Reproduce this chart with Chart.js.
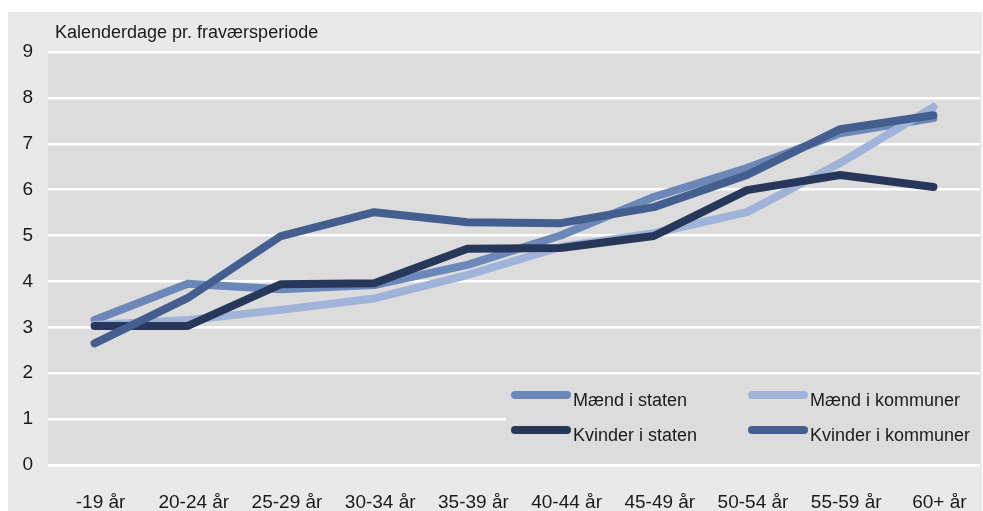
<!DOCTYPE html>
<html><head><meta charset="utf-8">
<script src="https://cdn.jsdelivr.net/npm/chart.js@4.4.1/dist/chart.umd.min.js"></script>
<style>html,body{margin:0;padding:0;background:#fff;overflow:hidden}#wrap{width:983px;height:511px}</style>
</head><body><div id="wrap"><canvas id="c" width="983" height="511"></canvas></div>
<script>
const categories = ['-19 år','20-24 år','25-29 år','30-34 år','35-39 år','40-44 år','45-49 år','50-54 år','55-59 år','60+ år'];
const maendStaten     = [3.16, 3.95, 3.83, 3.92, 4.36, 5.00, 5.84, 6.47, 7.23, 7.56];
const maendKommuner   = [3.05, 3.16, 3.38, 3.63, 4.14, 4.75, 5.05, 5.51, 6.58, 7.80];
const kvinderStaten   = [3.03, 3.03, 3.94, 3.96, 4.71, 4.73, 4.99, 5.99, 6.32, 6.06];
const kvinderKommuner = [2.65, 3.64, 4.99, 5.51, 5.29, 5.27, 5.62, 6.32, 7.32, 7.62];
const seriesNames = ['Mænd i staten','Mænd i kommuner','Kvinder i staten','Kvinder i kommuner'];
const yTicks = [0,1,2,3,4,5,6,7,8,9];
const yTitle = 'Kalenderdage pr. fraværsperiode';

const TICK_FONT = "'Liberation Sans', Arial, sans-serif";
const TEXT_FONT = "'Liberation Sans', Arial, sans-serif";
const TEXT_COLOR = '#1a1a1a';

const bgPlugin = {
  id: 'bg',
  beforeDraw(chart) {
    const ctx = chart.ctx, a = chart.chartArea;
    ctx.save();
    ctx.fillStyle = '#ffffff';
    ctx.fillRect(0, 0, chart.width, chart.height);
    ctx.fillStyle = '#e9e9e9';
    ctx.fillRect(8, 12, 974, 499);
    ctx.fillStyle = '#dcdcdc';
    ctx.fillRect(a.left, a.top, a.right - a.left, a.bottom - a.top);
    ctx.fillStyle = TEXT_COLOR;
    ctx.font = '18px ' + TEXT_FONT;
    ctx.textBaseline = 'alphabetic';
    ctx.textAlign = 'left';
    ctx.fillText(yTitle, a.left + 7, 38);
    ctx.restore();
  }
};

const legendPlugin = {
  id: 'insideLegend',
  afterDatasetsDraw(chart) {
    const ctx = chart.ctx, a = chart.chartArea;
    ctx.save();
    ctx.fillStyle = '#dcdcdc';
    ctx.fillRect(a.left + 458, a.bottom - 89, a.right - (a.left + 458), 87);
    chart.data.datasets.forEach((ds, i) => {
      const col = i % 2, row = Math.floor(i / 2);
      const x0 = a.left + 463 + col * 237;
      const ly = a.bottom - 70 + row * 35;
      ctx.strokeStyle = ds.borderColor;
      ctx.lineWidth = 8;
      ctx.lineCap = 'round';
      ctx.beginPath();
      ctx.moveTo(x0 + 4, ly);
      ctx.lineTo(x0 + 56, ly);
      ctx.stroke();
      ctx.fillStyle = TEXT_COLOR;
      ctx.font = '18px ' + TEXT_FONT;
      ctx.textBaseline = 'alphabetic';
      ctx.textAlign = 'left';
      ctx.fillText(ds.label, x0 + 62, ly + 11);
    });
    ctx.restore();
  }
};

const colors = ['#6b88b9', '#a0b3d8', '#26375a', '#435e8f'];
const values = [maendStaten, maendKommuner, kvinderStaten, kvinderKommuner];
const orders = [3, 2, 1, 0];

new Chart(document.getElementById('c'), {
  type: 'line',
  data: {
    labels: categories,
    datasets: seriesNames.map((name, i) => ({
      label: name,
      data: values[i],
      borderColor: colors[i],
      backgroundColor: colors[i],
      borderWidth: 8,
      borderCapStyle: 'round',
      borderJoinStyle: 'round',
      pointRadius: 0,
      pointHoverRadius: 0,
      tension: 0,
      fill: false,
      order: orders[i]
    }))
  },
  options: {
    responsive: false,
    animation: false,
    devicePixelRatio: 1,
    layout: { padding: { top: 52, right: 3, left: 0, bottom: 0 } },
    plugins: { legend: { display: false }, tooltip: { enabled: false }, title: { display: false } },
    scales: {
      x: {
        offset: true,
        grid: { display: false, drawTicks: false },
        border: { display: false },
        ticks: { color: TEXT_COLOR, font: { family: TICK_FONT, size: 19 }, padding: 26, labelOffset: 6, maxRotation: 0, autoSkip: false },
        afterFit(scale) { scale.height = 46; scale.paddingLeft = 0; scale.paddingRight = 0; }
      },
      y: {
        min: 0, max: 9,
        grid: { color: '#ffffff', lineWidth: 2.5, drawTicks: false },
        border: { display: false },
        ticks: { color: TEXT_COLOR, font: { family: TICK_FONT, size: 19 }, padding: 15 },
        afterBuildTicks(scale) { scale.ticks = yTicks.map(v => ({ value: v })); },
        afterFit(scale) { scale.width = 48; scale.paddingTop = 0; scale.paddingBottom = 0; }
      }
    }
  },
  plugins: [bgPlugin, legendPlugin]
});
</script>
</body></html>
